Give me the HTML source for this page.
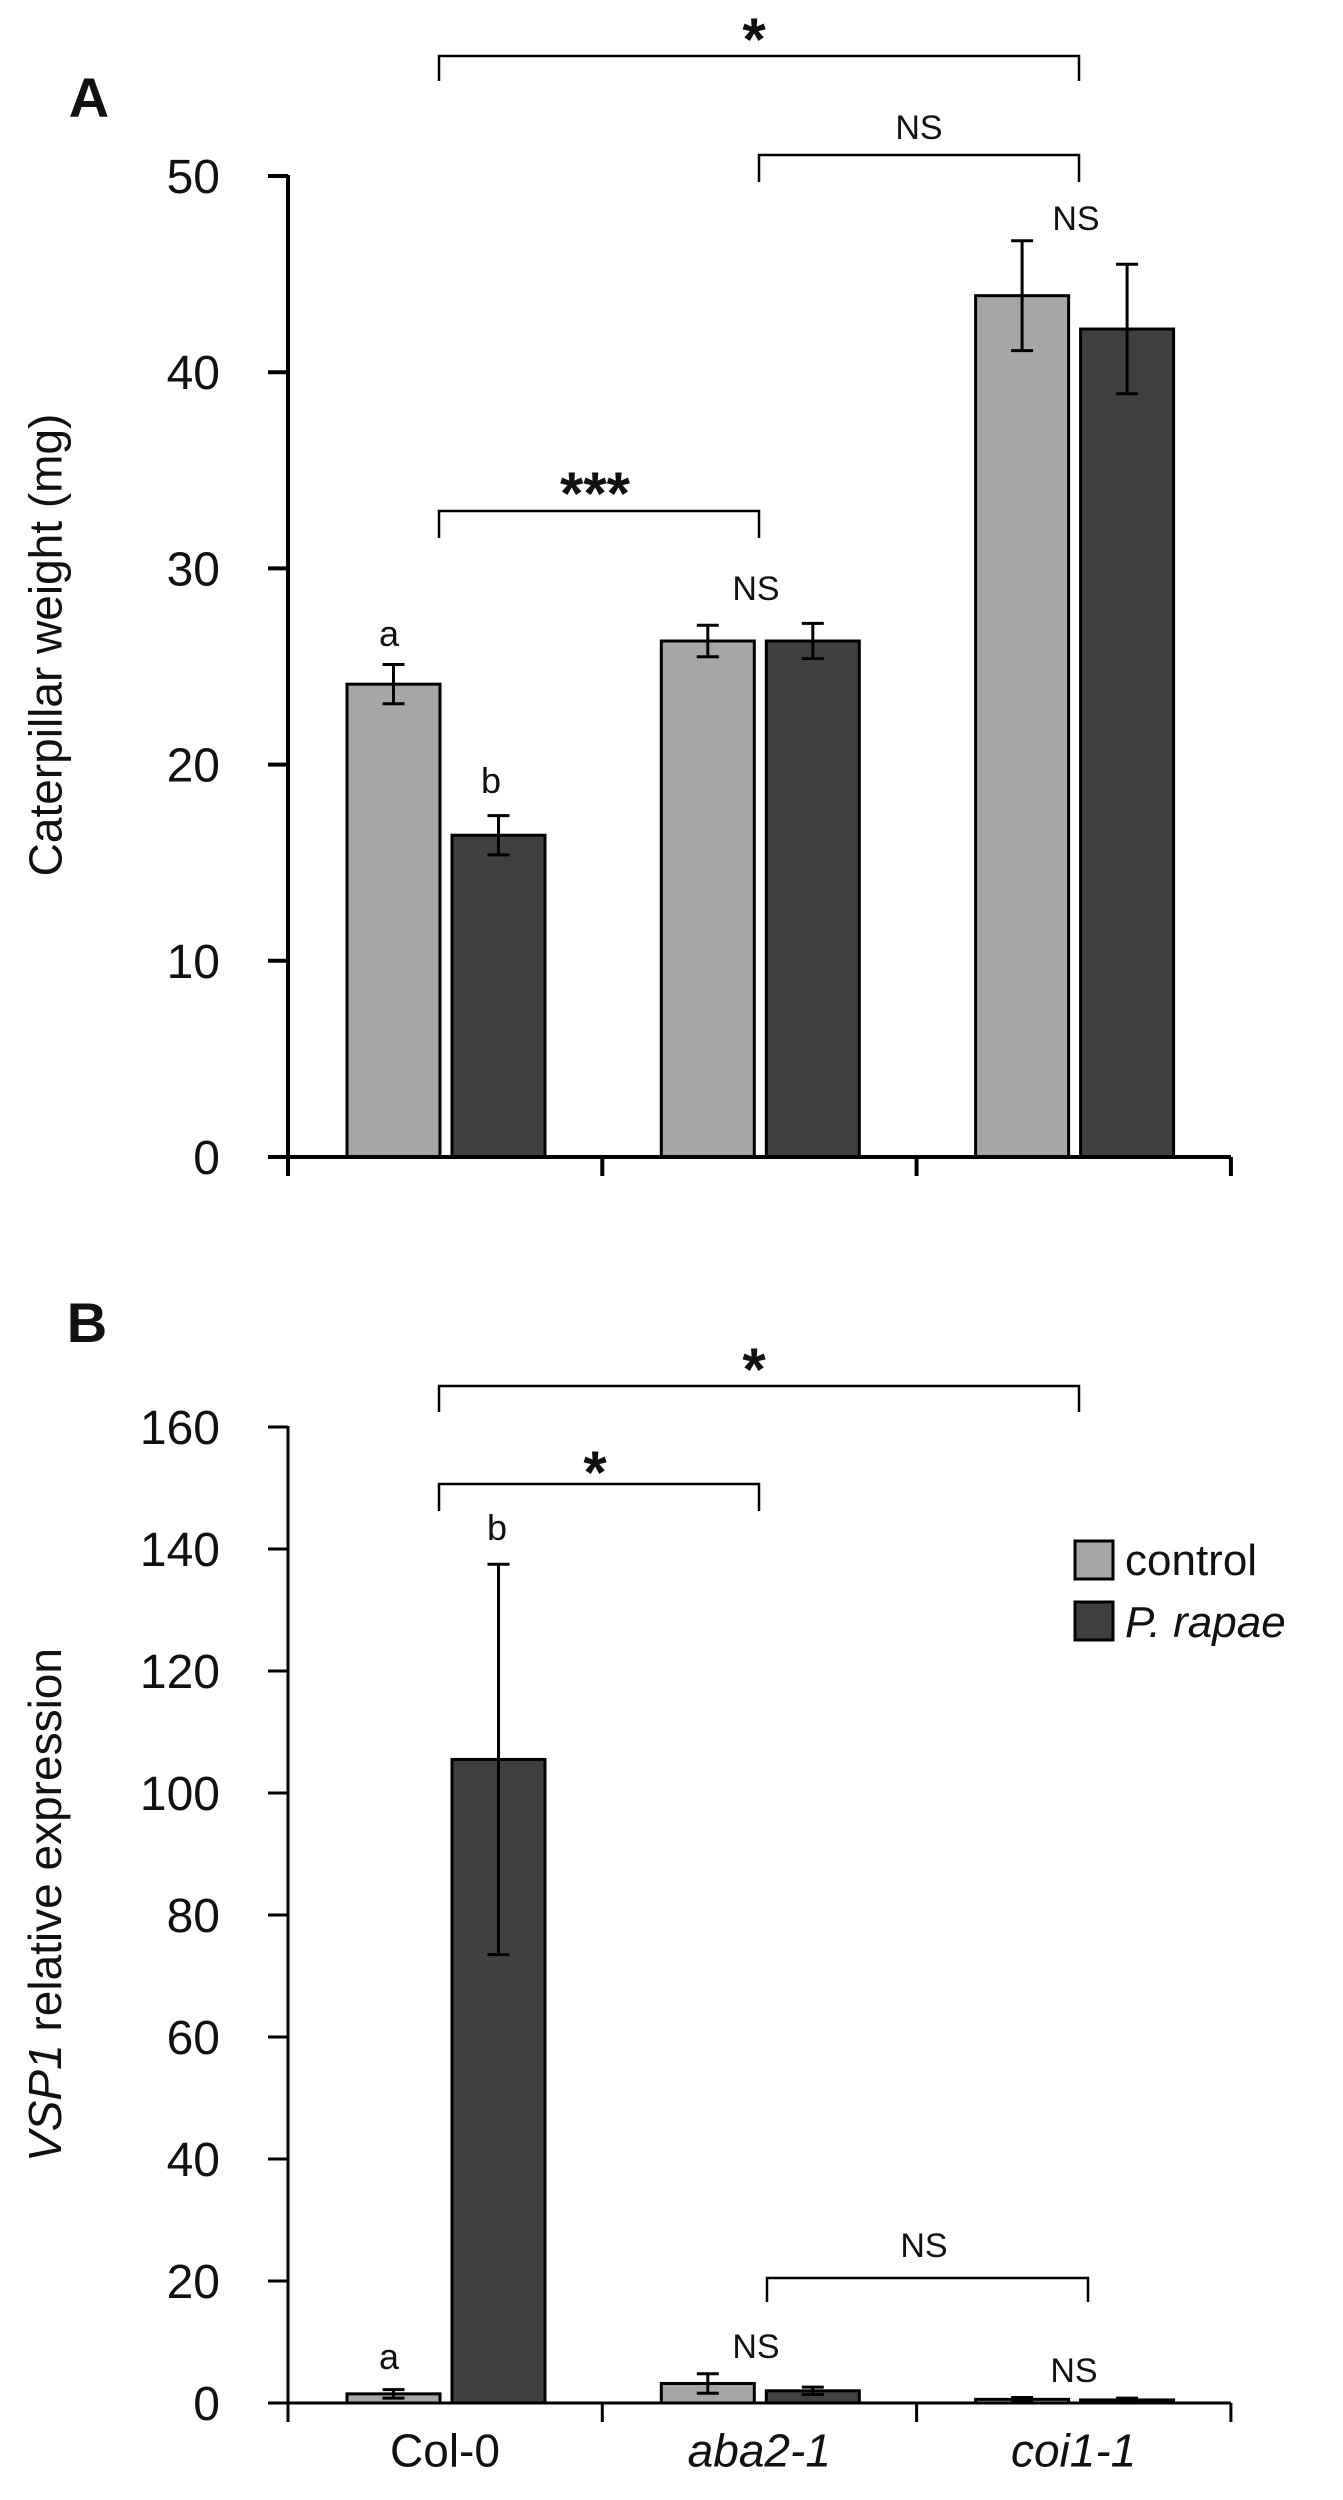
<!DOCTYPE html>
<html><head><meta charset="utf-8"><style>
html,body{margin:0;padding:0;background:#fff}
svg{display:block}
text{font-family:"Liberation Sans",sans-serif;fill:#111}
</style></head><body>
<svg id="fig" width="1343" height="2500" viewBox="0 0 1343 2500"></svg>
<script>
const groups = ["Col-0","aba2-1","coi1-1"];
const weightControl = [24.1, 26.3, 43.9];
const weightControlErr = [1.0, 0.8, 2.8];
const weightRapae = [16.4, 26.3, 42.2];
const weightRapaeErr = [1.0, 0.9, 3.3];
const weightTicks = [0,10,20,30,40,50];
const vspControl = [1.5, 3.2, 0.6];
const vspControlErr = [0.7, 1.6, 0.3];
const vspRapae = [105.5, 2.0, 0.5];
const vspRapaeErr = [32, 0.6, 0.3];
const vspTicks = [0,20,40,60,80,100,120,140,160];

const NS="http://www.w3.org/2000/svg";
const svg=document.getElementById('fig');
function el(tag,attrs,parent,txt){const e=document.createElementNS(NS,tag);for(const k in attrs)e.setAttribute(k,attrs[k]);if(txt!==undefined)e.textContent=txt;(parent||svg).appendChild(e);return e;}

function panel(cfg){
  const g=el('g',{});
  
  
  const x0=288, gw=314.3;
  const y=v=>cfg.y0-(v/cfg.max)*(cfg.y0-cfg.yTop);
  const ax=el('line',{x1:x0,y1:cfg.yTop-1,x2:x0,y2:cfg.y0,stroke:'#000','stroke-width':cfg.aw},g);
  
  cfg.ticks.forEach(t=>{
    const tl=el('line',{x1:x0-20,y1:y(t),x2:x0,y2:y(t),stroke:'#000','stroke-width':cfg.aw},g);
    
    const tx=el('text',{x:220,y:y(t)+17,'text-anchor':'end','font-size':48},g,String(t));
    
  });
  groups.forEach((gn,i)=>{
    const gx=x0+i*gw;
    [[cfg.c,cfg.ce,'#a6a6a6',59,'control'],[cfg.r,cfg.re,'#404040',164,'rapae']].forEach(([vals,errs,col,off,nm])=>{
      const v=vals[i],bx=gx+off,bw=93;
      const r=el('rect',{x:bx,y:y(v),width:bw,height:cfg.y0-y(v),fill:col,stroke:'#000','stroke-width':3},g);
      
      const cx=bx+bw/2,e=errs[i];
      const eb=el('path',{d:`M${cx},${y(v+e)}V${y(v-e)}M${cx-11},${y(v+e)}h22M${cx-11},${y(v-e)}h22`,stroke:'#000','stroke-width':3,fill:'none'},g);
      
    });
  });
  const xa=el('line',{x1:x0-20,y1:cfg.y0,x2:x0+3*gw,y2:cfg.y0,stroke:'#000','stroke-width':cfg.aw},g);
  
  for(let i=0;i<=3;i++){
    const t=el('line',{x1:x0+i*gw,y1:cfg.y0,x2:x0+i*gw,y2:cfg.y0+19,stroke:'#000','stroke-width':cfg.aw},g);
    
  }
  return g;
}
function bracket(x1,x2,yl,yd,label,lx,ly,fs,name,bold){
  const p=el('path',{d:`M${x1},${yd}V${yl}H${x2}V${yd}`,stroke:'#000','stroke-width':2.5,fill:'none'});
  
  const a={x:lx,y:ly,'text-anchor':'middle','font-size':fs};
  if(bold)a['font-weight']='bold';
  const t=el('text',a,svg,label);
  
}
function lbl(x,yc,s,fs,name,extra){
  const t=el('text',Object.assign({x:x,y:yc+fs*0.36,'text-anchor':'middle','font-size':fs},extra||{}),svg,s);
  return t;
}

// Panel A
panel({name:'panel-a-chart',y0:1157,yTop:176,max:50,ticks:weightTicks,c:weightControl,ce:weightControlErr,r:weightRapae,re:weightRapaeErr,aw:4});
lbl(89,97,'A',56,'panel-a-label',{'font-weight':'bold'});
lbl(45,645,'Caterpillar weight (mg)',46,'y-axis-title-a',{transform:'rotate(-90 45 645)'});
bracket(439,1079,56,81,'*',754,60,60,'sig-bracket-col-coi-a',true);
bracket(759,1079,155,182,'NS',919,139,34,'sig-bracket-aba-coi-a');
bracket(439,759,511,538,'***',595,514,60,'sig-bracket-col-aba-a',true);
lbl(389,633,'a',36,'letter-a-col0');
lbl(491,780,'b',36,'letter-b-col0');
lbl(756,588,'NS',34,'ns-aba-a');
lbl(1076,218,'NS',34,'ns-coi-a');

// Panel B
panel({name:'panel-b-chart',y0:2403,yTop:1427,max:160,ticks:vspTicks,c:vspControl,ce:vspControlErr,r:vspRapae,re:vspRapaeErr,aw:3});
lbl(87,1322,'B',56,'panel-b-label',{'font-weight':'bold'});
const yt=el('text',{x:45,y:1905,'text-anchor':'middle','font-size':46,transform:'rotate(-90 45 1905)',dy:16});

el('tspan',{'font-style':'italic'},yt,'VSP1');el('tspan',{},yt,' relative expression');
bracket(439,1079,1386,1412,'*',754,1390,60,'sig-bracket-col-coi-b',true);
bracket(439,759,1484,1511,'*',595,1493,60,'sig-bracket-col-aba-b',true);
bracket(767,1088,2278,2302,'NS',924,2257,34,'sig-bracket-aba-coi-b');
lbl(497,1527,'b',36,'letter-b-col0-b');
lbl(389,2356,'a',36,'letter-a-col0-b');
lbl(756,2346,'NS',34,'ns-aba-b');
lbl(1074,2370,'NS',34,'ns-coi-b');
groups.forEach((gn,i)=>{
  lbl(288+314.3*i+157,2450,gn,46,'x-label-'+gn,i>0?{'font-style':'italic'}:{});
});
const lg=el('g',{});

const lb1=el('rect',{x:1075,y:1541,width:38,height:38,fill:'#a6a6a6',stroke:'#000','stroke-width':3},lg);

const lb2=el('rect',{x:1075,y:1602,width:38,height:38,fill:'#404040',stroke:'#000','stroke-width':3},lg);

const lt1=el('text',{x:1125,y:1575,'font-size':44},lg,'control');

const lt2=el('text',{x:1125,y:1637,'font-size':44,'font-style':'italic'},lg,'P. rapae');

</script>
</body></html>
